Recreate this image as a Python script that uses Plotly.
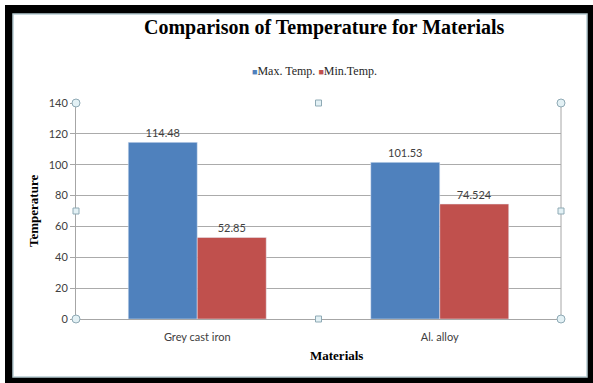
import plotly.graph_objects as go

# Chart data
materials = ["Grey cast iron", "Al. alloy"]
max_temp = [114.48, 101.53]
min_temp = [52.85, 74.524]
max_labels = ["114.48", "101.53"]
min_labels = ["52.85", "74.524"]
y_ticks = [0, 20, 40, 60, 80, 100, 120, 140]

W, H = 593, 383
L, R, T, B = 76, 561, 103, 319  # plot area in pixels


def px(x):
    return (x - L) / (R - L)


def py(y):
    return (B - y) / (B - T)


BLUE = "#4F81BD"
RED = "#C0504D"
SANS = "Lato, 'Open Sans', sans-serif"
SERIF = "'Liberation Serif', 'DejaVu Serif', serif"

fig = go.Figure()
fig.add_trace(go.Bar(
    name="Max. Temp.", x=materials, y=max_temp, marker_color=BLUE,
    text=max_labels, textposition="outside", cliponaxis=False,
    textfont=dict(family=SANS, size=11, color="#404040"),
))
fig.add_trace(go.Bar(
    name="Min.Temp.", x=materials, y=min_temp, marker_color=RED,
    text=min_labels, textposition="outside", cliponaxis=False,
    textfont=dict(family=SANS, size=11, color="#404040"),
))

shapes = []
# outer dark frame and inner white chart area
shapes.append(dict(type="rect", xref="paper", yref="paper",
                   x0=px(5), x1=px(593), y0=py(383), y1=py(5),
                   fillcolor="black", line=dict(width=0), layer="below"))
shapes.append(dict(type="rect", xref="paper", yref="paper",
                   x0=px(13), x1=px(587), y0=py(377), y1=py(14),
                   fillcolor="white", line=dict(color="#B7CCD2", width=1.5), layer="below"))
# plot-area right border
shapes.append(dict(type="line", xref="paper", yref="paper",
                   x0=1, x1=1, y0=0, y1=1, line=dict(color="#A6A6A6", width=1)))

# selection handles on the plot area
for hx, hy in [(L, T), (R, T), (L, B), (R, B)]:
    shapes.append(dict(type="circle", xref="paper", yref="paper",
                       x0=px(hx - 4), x1=px(hx + 4), y0=py(hy + 4), y1=py(hy - 4),
                       fillcolor="#E3F1F5", line=dict(color="#8FAAB5", width=1)))
mx, my = (L + R) / 2, (T + B) / 2
for hx, hy in [(mx, T), (mx, B), (L, my), (R, my)]:
    shapes.append(dict(type="rect", xref="paper", yref="paper",
                       x0=px(hx - 3), x1=px(hx + 3), y0=py(hy + 3), y1=py(hy - 3),
                       fillcolor="#E3F1F5", line=dict(color="#8FAAB5", width=1)))

legend_text = (f"<span style='color:{BLUE};font-size:9px'>■</span>{fig.data[0].name} "
               f"<span style='color:{RED};font-size:9px'>■</span>{fig.data[1].name}")

annotations = [
    dict(text="<b>Comparison of Temperature for Materials</b>", xref="paper", yref="paper",
         x=px(324), y=py(28), showarrow=False, xanchor="center", yanchor="middle",
         font=dict(family=SERIF, size=20, color="black")),
    dict(text=legend_text, xref="paper", yref="paper",
         x=px(314), y=py(71), showarrow=False, xanchor="center", yanchor="middle",
         font=dict(family=SERIF, size=12, color="#262626")),
    dict(text="<b>Temperature</b>", xref="paper", yref="paper",
         x=px(33), y=py(211), showarrow=False, textangle=-90,
         xanchor="center", yanchor="middle",
         font=dict(family=SERIF, size=13, color="black")),
    dict(text="<b>Materials</b>", xref="paper", yref="paper",
         x=px(336), y=py(355), showarrow=False, xanchor="center", yanchor="middle",
         font=dict(family=SERIF, size=13, color="black")),
]

fig.update_layout(
    width=W, height=H,
    margin=dict(l=L, r=W - R, t=T, b=H - B, pad=0),
    paper_bgcolor="white", plot_bgcolor="rgba(0,0,0,0)",
    barmode="group", bargap=0.431, bargroupgap=0,
    showlegend=False, shapes=shapes, annotations=annotations,
    hovermode=False,
)
fig.update_xaxes(
    showline=True, linecolor="#A6A6A6", linewidth=1,
    ticks="", ticklabelstandoff=8, showgrid=False,
    tickfont=dict(family=SANS, size=11, color="#404040"),
)
fig.update_yaxes(
    range=[0, 140], tickvals=y_ticks,
    showline=True, linecolor="#A6A6A6", linewidth=1,
    ticks="outside", ticklen=5, tickcolor="#A6A6A6",
    showgrid=True, gridcolor="#ABABAB", gridwidth=1, zeroline=False,
    tickfont=dict(family=SANS, size=11, color="#404040"),
)

fig.write_html("out.html")
